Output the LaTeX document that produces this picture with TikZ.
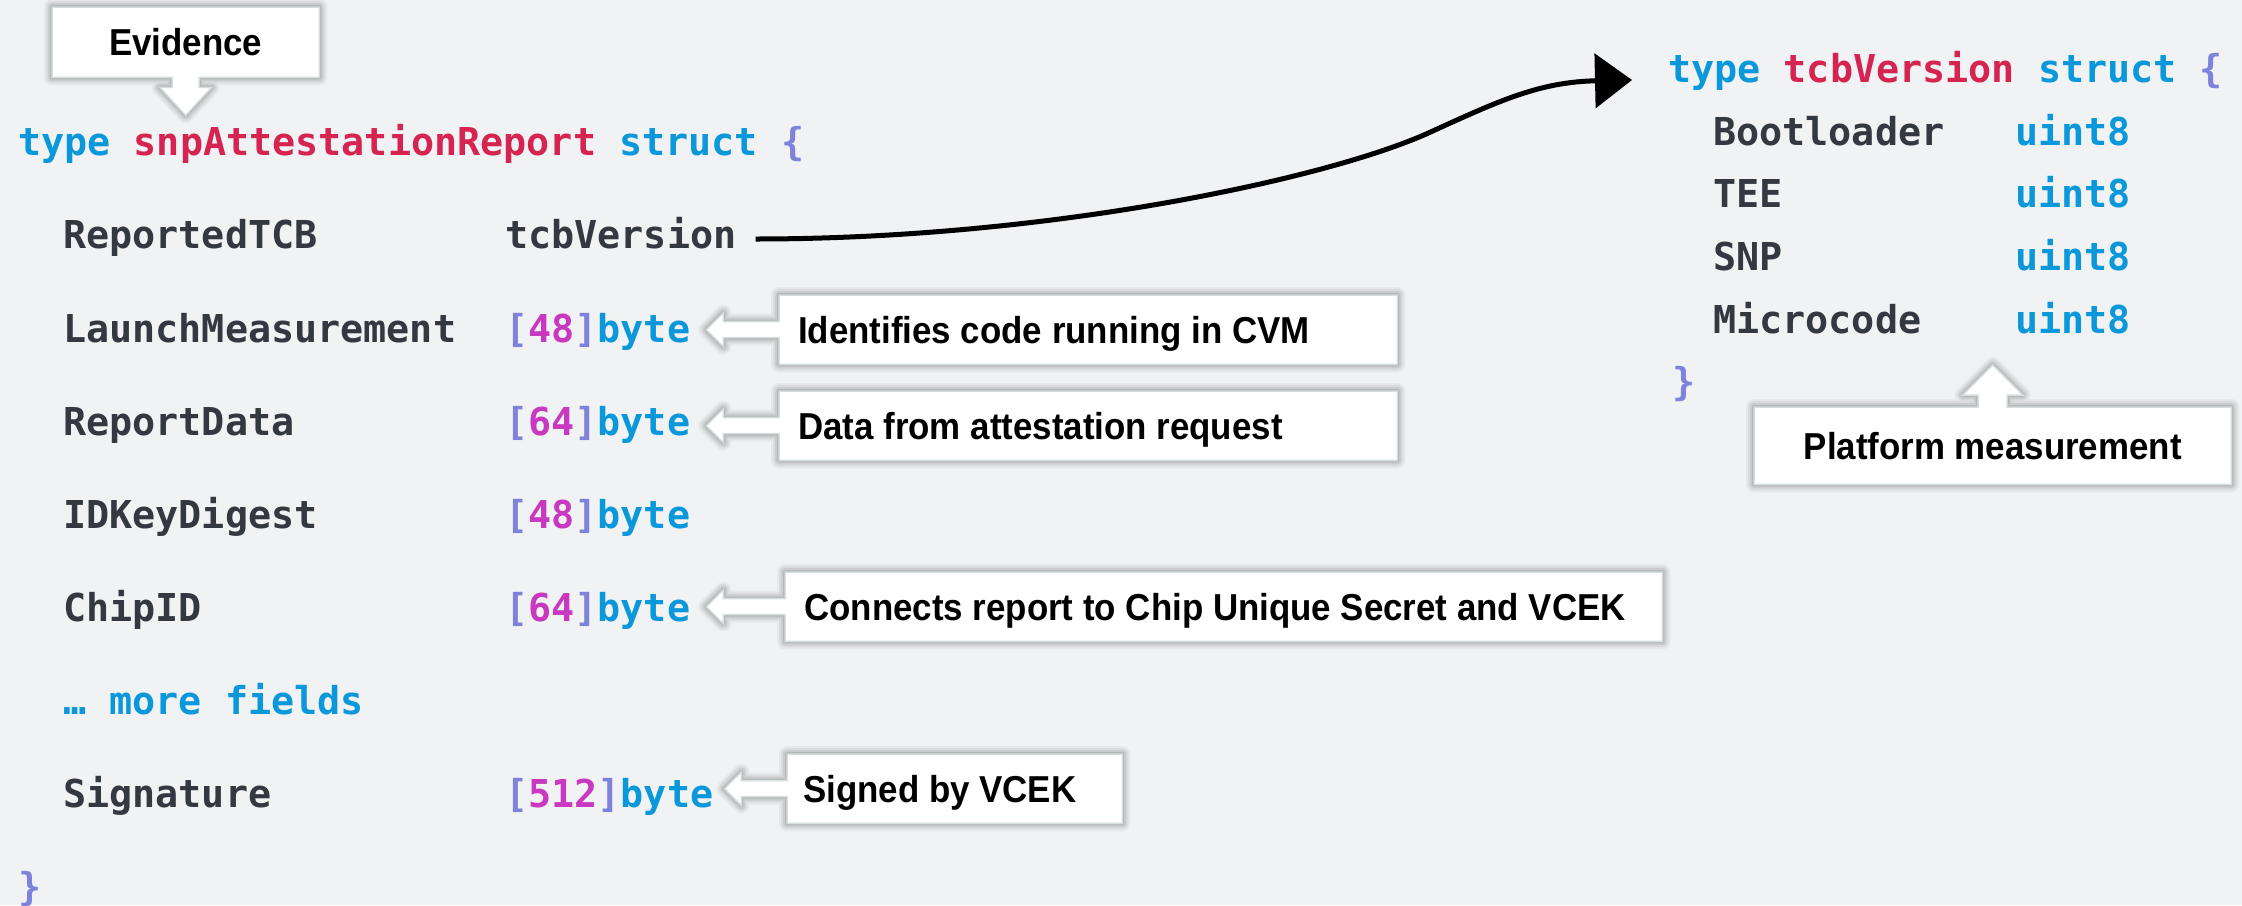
\documentclass[tikz,border=0pt]{standalone}
\usepackage{fontspec}
\newfontfamily\codefont{DejaVu Sans Mono}
\newfontfamily\callfont{Liberation Sans}[FakeStretch=0.93]
\usetikzlibrary{calc,arrows.meta}

\definecolor{bgc}{RGB}{241,242,244}
\definecolor{kwc}{RGB}{10,152,218}
\definecolor{tnc}{RGB}{214,36,82}
\definecolor{brc}{RGB}{126,130,218}
\definecolor{numc}{RGB}{200,56,192}
\definecolor{fldc}{RGB}{52,56,64}
\definecolor{edgec}{RGB}{214,222,222}

% syntax colouring helpers
\newcommand\cKw[1]{\textcolor{kwc}{#1}}
\newcommand\cTn[1]{\textcolor{tnc}{#1}}
\newcommand\cBr[1]{\textcolor{brc}{#1}}
\newcommand\cNum[1]{\textcolor{numc}{#1}}
\newcommand\arr[1]{\cBr{[}\cNum{#1}\cBr{]}\cKw{byte}}

\pgfdeclarelayer{bg}
\pgfdeclarelayer{mid}
\pgfsetlayers{bg,mid,main}

\tikzset{
  code/.style={inner sep=0pt, anchor=base west, text=fldc,
    font=\codefont\bfseries\fontsize{38.4}{40}\selectfont},
  note/.style={inner sep=0pt, text=black,
    font=\callfont\bfseries\fontsize{37.5}{40}\selectfont},
  cbox/.style={inner sep=0pt, minimum height=69pt, anchor=north west},
  callshape/.style={fill=white, draw=edgec, line width=1.5pt, line join=miter},
  conn/.style={line width=5pt, -{Triangle[length=37pt,width=54pt]}},
}

% outlines of the callout boxes with their block arrows (box #1, arrow tip #2)
\newcommand\leftpath[2]{(#1.north west) -- (#1.north east) -- (#1.south east) -- (#1.south west)
    -- ($(#1.west)+(0,8)$) -- ($(#2)+(17,8)$) -- ($(#2)+(17,17)$) -- (#2)
    -- ($(#2)+(17,-17)$) -- ($(#2)+(17,-8)$) -- ($(#1.west)+(0,-8)$) -- cycle}
\newcommand\downpath[2]{(#1.north west) -- (#1.north east) -- (#1.south east)
    -- ($(#2 |- #1.south)+(13.5,0)$) -- ($(#2)+(13.5,-28)$) -- ($(#2)+(26,-28)$) -- (#2)
    -- ($(#2)+(-26,-28)$) -- ($(#2)+(-13.5,-28)$) -- ($(#2 |- #1.south)+(-13.5,0)$)
    -- (#1.south west) -- cycle}
\newcommand\uppath[2]{(#1.south west) -- (#1.south east) -- (#1.north east)
    -- ($(#2 |- #1.north)+(14.5,0)$) -- ($(#2)+(14.5,30)$) -- ($(#2)+(30,30)$) -- (#2)
    -- ($(#2)+(-30,30)$) -- ($(#2)+(-14.5,30)$) -- ($(#2 |- #1.north)+(-14.5,0)$)
    -- (#1.north west) -- cycle}

% white callout shape over a soft, layered drop shadow
\newcommand\callout[1]{%
  \begin{pgfonlayer}{mid}
  \begin{scope}[shift={(4,8)}]
    \foreach \sw/\so in {16/0.04,12/0.055,8/0.07,4/0.09,1/0.14}{
      \path[fill=black, fill opacity=\so, draw=black, draw opacity=\so,
            line width=\sw pt, line join=round] #1;}
  \end{scope}
  \path[callshape] #1;
  \end{pgfonlayer}}

\begin{document}
\begin{tikzpicture}[x=1pt,y=-1pt]
\useasboundingbox (0,0) rectangle (2242,905);
\begin{pgfonlayer}{bg}
  \fill[bgc] (0,0) rectangle (2242,905);
\end{pgfonlayer}

% ---- snpAttestationReport ----
\node[code] (hdrL) at (18,155) {\cKw{type} \cTn{snpAttestationReport} \cKw{struct} \cBr{\{}};
\node[code] (f1) at (63,248) {ReportedTCB};
\node[code] (t1) at (505,248) {tcbVersion};
\node[code] (f2) at (63,342) {LaunchMeasurement};
\node[code] (t2) at (505,342) {\arr{48}};
\node[code] (f3) at (63,435) {ReportData};
\node[code] (t3) at (505,435) {\arr{64}};
\node[code] (f4) at (63,528) {IDKeyDigest};
\node[code] (t4) at (505,528) {\arr{48}};
\node[code] (f5) at (63,621) {ChipID};
\node[code] (t5) at (505,621) {\arr{64}};
\node[code] (f6) at (63,714) {\cKw{… more fields}};
\node[code] (f7) at (63,807) {Signature};
\node[code] (t7) at (505,807) {\arr{512}};
\node[code] (endL) at (18,900) {\cBr{\}}};

% ---- tcbVersion ----
\node[code] (hdrR) at (1668,82) {\cKw{type} \cTn{tcbVersion} \cKw{struct} \cBr{\{}};
\node[code] (g1) at (1713,145) {Bootloader};
\node[code] (u1) at (2015,145) {\cKw{uint8}};
\node[code] (g2) at (1713,207) {TEE};
\node[code] (u2) at (2015,207) {\cKw{uint8}};
\node[code] (g3) at (1713,270) {SNP};
\node[code] (u3) at (2015,270) {\cKw{uint8}};
\node[code] (g4) at (1713,333) {Microcode};
\node[code] (u4) at (2015,333) {\cKw{uint8}};
\node[code] (endR) at (1672,395) {\cBr{\}}};

% ---- link from the field type to its definition ----
\coordinate (arrS) at ($(t1.base east)+(19,-9)$);
\coordinate (arrE) at ($(hdrR.base west)+(-36,-2)$);
\draw[conn] (arrS) .. controls +(295,0) and +(-100,46) .. ++(675,-107)
                   .. controls +(70,-32) and +(-92,2) .. (arrE);

% ---- callouts ----
\node[cbox, minimum width=267pt, minimum height=70pt] (ev) at (52,7) {};
\node[note, anchor=base] (evt) at ($(ev.center)+(0,13)$) {Evidence};
\coordinate (evtip) at ($(ev.south)+(0,38)$);
\callout{\downpath{ev}{evtip}}

\node[cbox, minimum width=618pt] (c1) at (779,295) {};
\node[note, anchor=base west] (c1t) at ($(c1.west)+(19,13.5)$) {Identifies code running in CVM};
\coordinate (c1x) at ($(t2.east)+(16,0)$);
\coordinate (c1tip) at (c1x |- c1.west);
\callout{\leftpath{c1}{c1tip}}

\node[cbox, minimum width=618pt] (c2) at (779,391) {};
\node[note, anchor=base west] (c2t) at ($(c2.west)+(19,13.5)$) {Data from attestation request};
\coordinate (c2x) at ($(t3.east)+(16,0)$);
\coordinate (c2tip) at (c2x |- c2.west);
\callout{\leftpath{c2}{c2tip}}

\node[cbox, minimum width=877pt] (c3) at (785,572) {};
\node[note, anchor=base west] (c3t) at ($(c3.west)+(19,13.5)$) {Connects report to Chip Unique Secret and VCEK};
\coordinate (c3x) at ($(t5.east)+(16,0)$);
\coordinate (c3tip) at (c3x |- c3.west);
\callout{\leftpath{c3}{c3tip}}

\node[cbox, minimum width=335pt] (c4) at (787,754) {};
\node[note, anchor=base west] (c4t) at ($(c4.west)+(16,13.5)$) {Signed by VCEK};
\coordinate (c4x) at ($(t7.east)+(11,0)$);
\coordinate (c4tip) at (c4x |- c4.west);
\callout{\leftpath{c4}{c4tip}}

\node[cbox, minimum width=477pt, minimum height=77pt] (pm) at (1754,407) {};
\node[note, anchor=base] (pmt) at ($(pm.center)+(0,14)$) {Platform measurement};
\coordinate (pmtip) at ($(pm.north)+(0,-42)$);
\callout{\uppath{pm}{pmtip}}
\end{tikzpicture}
\end{document}
